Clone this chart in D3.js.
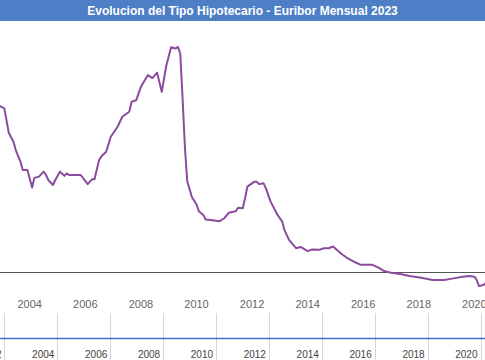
<!DOCTYPE html>
<html>
<head>
<meta charset="utf-8">
<script src="https://cdn.jsdelivr.net/npm/d3@7"></script>
<style>
  body { margin: 0; background: #fff; }
  svg { display: block; font-family: "Liberation Sans", Arial, sans-serif; }
</style>
</head>
<body>
<svg id="chart"></svg>
<script>
// Euribor mensual
const months = [
  "2002-12","2003-02","2003-03","2003-04","2003-06","2003-07","2003-09","2003-10","2003-12",
  "2004-02","2004-03","2004-05","2004-07","2004-08","2004-09","2004-11","2004-12",
  "2005-02","2005-04","2005-05","2005-06","2005-11",
  "2006-02","2006-04","2006-05","2006-07","2006-08","2006-10","2006-12",
  "2007-03","2007-05","2007-08","2007-09","2007-11",
  "2008-01","2008-04","2008-06","2008-08","2008-10","2008-12",
  "2009-02","2009-04","2009-05","2009-06","2009-07","2009-08","2009-09","2009-11",
  "2010-01","2010-02","2010-04","2010-05","2010-08","2010-11",
  "2011-01","2011-03","2011-06","2011-07","2011-09","2011-10","2011-11",
  "2012-02","2012-03","2012-04","2012-06","2012-07","2012-09","2012-12",
  "2013-02","2013-03","2013-05","2013-08","2013-10",
  "2014-01","2014-03","2014-06","2014-08","2014-10","2014-12",
  "2015-02","2015-04","2015-06","2015-07","2015-10","2015-12",
  "2016-05","2016-08","2016-10",
  "2017-01","2017-05","2017-09",
  "2018-02","2018-07","2018-12",
  "2019-04","2019-08","2019-11",
  "2020-01","2020-02","2020-03","2020-05","2020-06"
];
const euribor = [
  3.98,3.92,3.64,3.33,3.12,2.92,2.64,2.44,2.44,
  2.02,2.25,2.28,2.40,2.32,2.20,2.08,2.20,
  2.40,2.30,2.36,2.32,2.32,
  2.10,2.22,2.22,2.68,2.77,2.88,3.24,
  3.48,3.72,3.84,4.08,4.12,
  4.44,4.72,4.65,4.78,4.32,4.96,
  5.39,5.36,5.40,5.24,4.20,3.00,2.17,1.79,
  1.61,1.45,1.36,1.25,1.23,1.21,
  1.28,1.41,1.45,1.53,1.52,1.76,2.04,
  2.16,2.16,2.10,2.12,2.00,1.68,1.36,
  1.20,1.00,0.76,0.56,0.59,
  0.49,0.53,0.52,0.56,0.56,0.60,
  0.50,0.41,0.33,0.30,0.21,0.16,
  0.16,0.08,0.01,
  -0.03,-0.06,-0.11,
  -0.15,-0.205,-0.205,
  -0.165,-0.125,-0.11,
  -0.125,-0.205,-0.35,-0.325,-0.27
];
const axisYears = [2004, 2006, 2008, 2010, 2012, 2014, 2016, 2018, 2020];
const navYears = [2002, 2004, 2006, 2008, 2010, 2012, 2014, 2016, 2018, 2020];
const title = "Evolucion del Tipo Hipotecario - Euribor Mensual 2023";

const width = 485, height = 360;
const parse = d3.timeParse("%Y-%m");
const data = months.map((m, i) => ({ date: parse(m), value: euribor[i] }));

const svg = d3.select("#chart")
    .attr("width", width)
    .attr("height", height);

// Title bar
svg.append("rect")
    .attr("width", width)
    .attr("height", 21)
    .attr("fill", "#4e7ec6");
svg.append("text")
    .attr("x", width / 2)
    .attr("y", 15)
    .attr("text-anchor", "middle")
    .attr("fill", "#fff")
    .attr("font-size", 12)
    .attr("font-weight", "bold")
    .text(title);

// Main chart scales
const x = d3.scaleTime()
    .domain([new Date(2002, 11, 6), new Date(2020, 4, 20)])
    .range([0, width]);
const y = d3.scaleLinear()
    .domain([-0.5, 6])
    .range([292.3, 21.9]);

svg.append("clipPath").attr("id", "plot-clip")
  .append("rect")
    .attr("x", 0).attr("y", 21)
    .attr("width", width).attr("height", 270);

// zero line
svg.append("line")
    .attr("x1", 0).attr("x2", width)
    .attr("y1", Math.round(y(0)) + 0.5).attr("y2", Math.round(y(0)) + 0.5)
    .attr("stroke", "#555")
    .attr("stroke-width", 1);

const line = d3.line()
    .x(d => x(d.date))
    .y(d => y(d.value));

svg.append("path")
    .datum(data)
    .attr("clip-path", "url(#plot-clip)")
    .attr("fill", "none")
    .attr("stroke", "#8b4c9d")
    .attr("stroke-width", 2)
    .attr("stroke-linejoin", "round")
    .attr("d", line);

// Main x axis labels
svg.append("g")
    .selectAll("text")
    .data(axisYears)
    .enter().append("text")
    .attr("x", d => x(new Date(d, 0, 1)))
    .attr("y", 308)
    .attr("text-anchor", "middle")
    .attr("fill", "#666")
    .attr("font-size", 11)
    .text(d => d);

// Navigator
const nx = d3.scaleTime()
    .domain([new Date(2001, 9, 31), new Date(2020, 2, 3)])
    .range([0, width]);

svg.append("g")
    .selectAll("line")
    .data(navYears)
    .enter().append("line")
    .attr("x1", d => Math.round(nx(new Date(d, 0, 1))) + 0.5)
    .attr("x2", d => Math.round(nx(new Date(d, 0, 1))) + 0.5)
    .attr("y1", 313).attr("y2", height)
    .attr("stroke", "#d6d6d6")
    .attr("stroke-width", 1);

svg.append("line")
    .attr("x1", 0).attr("x2", width)
    .attr("y1", 338.5).attr("y2", 338.5)
    .attr("stroke", "#3d6fc5")
    .attr("stroke-width", 1.5);

svg.append("g")
    .selectAll("text")
    .data(navYears)
    .enter().append("text")
    .attr("x", d => nx(new Date(d, 0, 1)) - 3)
    .attr("y", 358)
    .attr("text-anchor", "end")
    .attr("fill", "#444")
    .attr("font-size", 10)
    .text(d => d);
</script>
</body>
</html>
